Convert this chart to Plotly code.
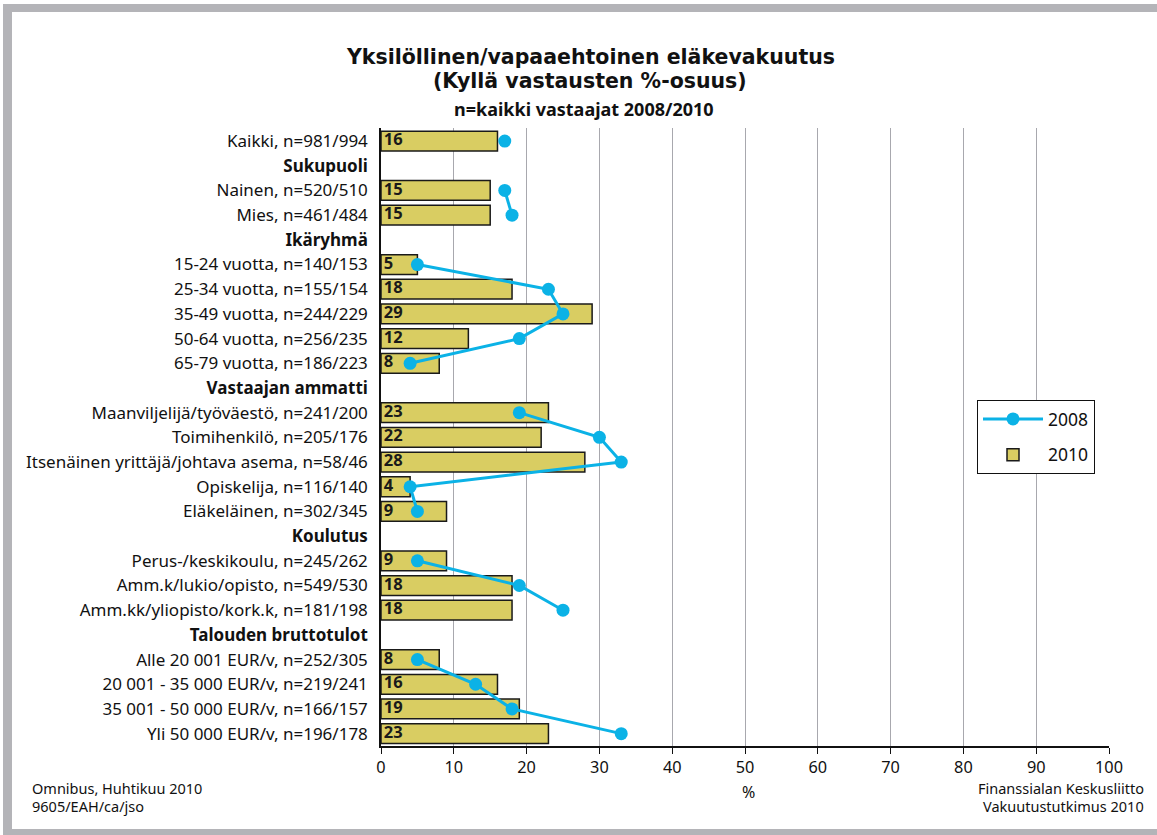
import plotly.graph_objects as go

categories = [
    "Kaikki, n=981/994",
    "<b>Sukupuoli</b>",
    "Nainen, n=520/510",
    "Mies, n=461/484",
    "<b>Ikäryhmä</b>",
    "15-24 vuotta, n=140/153",
    "25-34 vuotta, n=155/154",
    "35-49 vuotta, n=244/229",
    "50-64 vuotta, n=256/235",
    "65-79 vuotta, n=186/223",
    "<b>Vastaajan ammatti</b>",
    "Maanviljelijä/työväestö, n=241/200",
    "Toimihenkilö, n=205/176",
    "Itsenäinen yrittäjä/johtava asema, n=58/46",
    "Opiskelija, n=116/140",
    "Eläkeläinen, n=302/345",
    "<b>Koulutus</b>",
    "Perus-/keskikoulu, n=245/262",
    "Amm.k/lukio/opisto, n=549/530",
    "Amm.kk/yliopisto/kork.k, n=181/198",
    "<b>Talouden bruttotulot</b>",
    "Alle 20 001 EUR/v, n=252/305",
    "20 001 - 35 000 EUR/v, n=219/241",
    "35 001 - 50 000 EUR/v, n=166/157",
    "Yli 50 000 EUR/v, n=196/178",
]
values_2010 = [16, None, 15, 15, None, 5, 18, 29, 12, 8, None, 23, 22, 28, 4, 9,
               None, 9, 18, 18, None, 8, 16, 19, 23]
values_2008 = [17, None, 17, 18, None, 5, 23, 25, 19, 4, None, 19, 30, 33, 4, 5,
               None, 5, 19, 25, None, 5, 13, 18, 33]
x_ticks = list(range(0, 101, 10))

W, H = 1157, 835
L, R, T, B = 381, 1109, 128, 746


def px(x):
    return (x - L) / (R - L)


def py(y):
    return (B - y) / (B - T)


FONT = "Noto Sans"
TITLE_FONT = "DejaVu Sans"
BAR_COLOR = "#d9cd62"
LINE_COLOR = "#0bb2e6"
GRAY = "#b4b4b8"

fig = go.Figure()

fig.add_trace(go.Bar(
    x=values_2010, y=categories, orientation="h", name="2010",
    marker=dict(color=BAR_COLOR, line=dict(color="#1a1a1a", width=1.5)),
    width=0.8, legendgroup="b", legendrank=2,
))
fig.add_trace(go.Scatter(
    x=[0 if v is not None else None for v in values_2010], y=categories,
    mode="text",
    text=[f"\u2009<b>{v}</b>" if v is not None else "" for v in values_2010],
    textposition="middle right",
    textfont=dict(family=FONT, size=16.5, color="#1a1a1a"),
    showlegend=False, hoverinfo="skip",
))
fig.add_trace(go.Scatter(
    x=values_2008, y=categories, mode="lines+markers", name="2008",
    line=dict(color=LINE_COLOR, width=3),
    marker=dict(color=LINE_COLOR, size=13),
    connectgaps=False, legendgroup="a", legendrank=1, cliponaxis=False,
))

shapes = [
    dict(type="rect", xref="paper", yref="paper", x0=px(3), x1=px(W), y0=py(4), y1=py(12),
         fillcolor=GRAY, line=dict(width=0), layer="below"),
    dict(type="rect", xref="paper", yref="paper", x0=px(3), x1=px(12), y0=py(4), y1=py(H),
         fillcolor=GRAY, line=dict(width=0), layer="below"),
    dict(type="rect", xref="paper", yref="paper", x0=px(3), x1=px(W), y0=py(829), y1=py(H),
         fillcolor=GRAY, line=dict(width=0), layer="below"),
]

annotations = [
    dict(text="<b>Yksilöllinen/vapaaehtoinen eläkevakuutus</b>", x=px(590), y=py(56.5),
         font=dict(size=20.5, family=TITLE_FONT)),
    dict(text="<b>(Kyllä vastausten %-osuus)</b>", x=px(590), y=py(81),
         font=dict(size=20.5, family=TITLE_FONT)),
    dict(text="<b>n=kaikki vastaajat 2008/2010</b>", x=px(584), y=py(109), font=dict(size=18)),
    dict(text="%", x=px(748), y=py(792), font=dict(size=16)),
    dict(text="Omnibus, Huhtikuu 2010", x=px(30), y=py(788), xanchor="left", font=dict(size=14.5)),
    dict(text="9605/EAH/ca/jso", x=px(30), y=py(806), xanchor="left", font=dict(size=14.5)),
    dict(text="Finanssialan Keskusliitto", x=px(1146), y=py(788), xanchor="right", font=dict(size=14.5)),
    dict(text="Vakuutustutkimus 2010", x=px(1146), y=py(806), xanchor="right", font=dict(size=14.5)),
]
for a in annotations:
    a.setdefault("xanchor", "center")
    a.update(xref="paper", yref="paper", yanchor="middle", showarrow=False)
    a["font"].setdefault("family", FONT)
    a["font"].update(color="#111")

fig.update_layout(
    width=W, height=H,
    margin=dict(l=L, r=W - R, t=T, b=H - B, pad=0),
    paper_bgcolor="white", plot_bgcolor="white",
    font=dict(family=FONT, size=17, color="#111"),
    showlegend=True,
    legend=dict(x=px(977), y=py(400), xanchor="left", yanchor="top",
                bordercolor="#111", borderwidth=1, bgcolor="white",
                font=dict(size=17.5, family=FONT), traceorder="grouped",
                tracegroupgap=10, itemwidth=60),
    shapes=shapes, annotations=annotations,
)
fig.update_xaxes(
    range=[0, 100], tickvals=x_ticks, showgrid=True, gridcolor="#a8a8ae", gridwidth=1,
    showline=True, linecolor="#111", linewidth=1.5, ticks="outside", ticklen=6,
    tickcolor="#111", tickfont=dict(size=16.3), zeroline=False, fixedrange=True,
)
fig.update_yaxes(
    type="category", categoryorder="array", categoryarray=categories,
    range=[24.5, -0.53], showline=True, linecolor="#111", linewidth=1.5,
    ticks="outside", ticklen=8, tickcolor="rgba(0,0,0,0)", tickfont=dict(size=17),
    showgrid=False, zeroline=False, fixedrange=True,
)

fig.write_html("out.html", config={"displayModeBar": False},
               post_script="document.body.style.margin='0';")
